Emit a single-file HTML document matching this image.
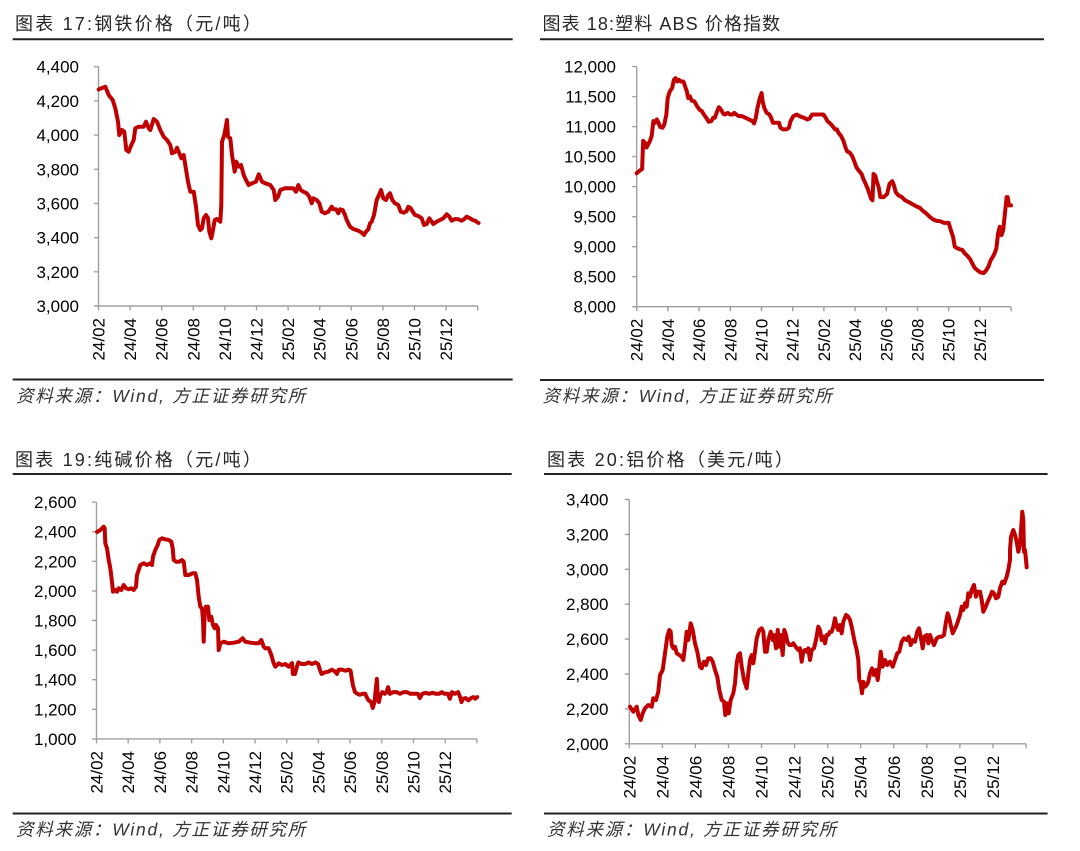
<!DOCTYPE html>
<html><head><meta charset="utf-8"><style>
html,body{margin:0;padding:0;background:#fff;}
svg{display:block;}
.t{font-family:"Liberation Sans","Noto Sans CJK SC",sans-serif;font-size:18px;letter-spacing:2.2px;fill:#262626;}
.t2{font-family:"Liberation Sans","Noto Sans CJK SC",sans-serif;font-size:18px;letter-spacing:1.1px;fill:#262626;}
.s{font-family:"Liberation Sans","Noto Sans CJK SC",sans-serif;font-size:17.5px;letter-spacing:1.75px;font-style:italic;fill:#333;}
.yl{font-family:"Liberation Sans",sans-serif;font-size:17px;fill:#000;text-anchor:end;}
.xl{font-family:"Liberation Sans",sans-serif;font-size:17px;fill:#000;text-anchor:end;}
.ax{stroke:#a0a0a0;stroke-width:1.4;fill:none;}
.ln{stroke:#222;stroke-width:2;}
.d{fill:none;stroke:#C00000;stroke-width:4;stroke-linejoin:round;stroke-linecap:round;}
</style></head><body>
<svg width="1080" height="851" viewBox="0 0 1080 851" xmlns="http://www.w3.org/2000/svg">
<rect width="1080" height="851" fill="#fff"/>

<!-- ============ CHART 1 ============ -->
<text class="t" x="15" y="30">图表 17:钢铁价格（元/吨）</text>
<line class="ln" x1="12.7" y1="39.3" x2="512.7" y2="39.3"/>
<line class="ln" x1="12.7" y1="379.5" x2="512.7" y2="379.5"/>
<text class="s" x="16" y="402">资料来源：Wind, 方正证券研究所</text>
<g class="ax">
<path d="M98.5 66.7V306H477.7"/>
<path d="M94 66.7H98.5M94 100.9H98.5M94 135.1H98.5M94 169.3H98.5M94 203.5H98.5M94 237.7H98.5M94 271.8H98.5M94 306H98.5"/>
<path d="M98.5 306v4.5M130.1 306v4.5M161.7 306v4.5M193.3 306v4.5M224.9 306v4.5M256.5 306v4.5M288.1 306v4.5M319.7 306v4.5M351.3 306v4.5M382.9 306v4.5M414.5 306v4.5M446.1 306v4.5M477.7 306v4.5"/>
</g>
<g class="yl">
<text x="79" y="66.7" dy="0.35em">4,400</text>
<text x="79" y="100.9" dy="0.35em">4,200</text>
<text x="79" y="135.1" dy="0.35em">4,000</text>
<text x="79" y="169.3" dy="0.35em">3,800</text>
<text x="79" y="203.5" dy="0.35em">3,600</text>
<text x="79" y="237.7" dy="0.35em">3,400</text>
<text x="79" y="271.8" dy="0.35em">3,200</text>
<text x="79" y="306" dy="0.35em">3,000</text>
</g>
<g class="xl">
<text transform="translate(98.5,318) rotate(-90)" dy="0.35em">24/02</text>
<text transform="translate(130.1,318) rotate(-90)" dy="0.35em">24/04</text>
<text transform="translate(161.7,318) rotate(-90)" dy="0.35em">24/06</text>
<text transform="translate(193.3,318) rotate(-90)" dy="0.35em">24/08</text>
<text transform="translate(224.9,318) rotate(-90)" dy="0.35em">24/10</text>
<text transform="translate(256.5,318) rotate(-90)" dy="0.35em">24/12</text>
<text transform="translate(288.1,318) rotate(-90)" dy="0.35em">25/02</text>
<text transform="translate(319.7,318) rotate(-90)" dy="0.35em">25/04</text>
<text transform="translate(351.3,318) rotate(-90)" dy="0.35em">25/06</text>
<text transform="translate(382.9,318) rotate(-90)" dy="0.35em">25/08</text>
<text transform="translate(414.5,318) rotate(-90)" dy="0.35em">25/10</text>
<text transform="translate(446.1,318) rotate(-90)" dy="0.35em">25/12</text>
</g>
<polyline class="d" points="98.7,89.5 99.3,89 105.3,86.7 108.7,95 112.7,100 115.3,108.3 118,121.7 119.3,135 122,130 124.3,131.7 126.3,150 128.7,151.7 131.3,145 133.7,140 135.3,128.3 138.7,126.7 143.7,126.7 146,121.7 148.7,128.3 150.3,130 153.7,119 157,121.7 160.3,130 163.7,136.7 167,140 170.3,145 172,153.3 175.3,151.7 177,147.7 179.3,153.3 181.3,158.3 183.7,155 185.3,165 188,181.7 190.3,191.7 193.7,191.7 196,206.7 198,225 200.3,230 202,228.3 203.7,218.3 206,215 208,218.3 209.3,231.7 211.3,238.3 212.7,231.7 214.7,220 217,219 220.3,221.7 221.3,205 222,141.7 224.3,135 227,120 228,136.7 230.3,138.3 232,155 234.7,171.7 236.3,161.7 238.7,166.7 241,165 243.7,175 246,180 248.7,185 252,183.3 256,181.7 258.7,174.3 262,181.7 265.3,183.3 270.3,185 273.7,190 275.3,200 278,196.7 280.3,190 285,188.3 293.3,188.3 296,191.7 298.3,185 300.7,190 303.3,191.7 306.7,193.3 309.3,196.7 311.7,203.3 313.3,198.3 316.7,200 319.3,203.3 321.7,211.7 325,213.3 328.3,211.7 331.7,206.7 333.3,209.3 336,209.3 338.3,213.3 340,209.3 342.7,210 345,215 346.7,220 350,226.7 353.3,229 358.3,230.7 361.7,232.7 364,235 366,231.7 368.3,229.3 370,223.3 371.7,221.7 374,215 376.7,200 379,195 381,190 383.3,198.3 386,200 388.3,195 390,193.3 392.3,200 395,203.3 398.3,205 400.7,211.7 404,212.7 406.7,211 408.3,206.7 410.7,208.3 412.7,211.7 415,215 418.3,216 421.7,218.3 424,225 426.7,224 429.3,218.3 431.7,221.7 433.3,224 436.7,221.7 440,220 443.3,218.3 446.7,214.3 449.3,216.7 451.7,220.7 455,219 458.3,219.3 461.7,220.7 464,219.3 466.7,216.7 470,218.3 472.7,220 475,220.7 478.5,223"/>

<!-- ============ CHART 2 ============ -->
<text class="t2" x="542.5" y="30">图表 18:塑料 ABS 价格指数</text>
<line class="ln" x1="540" y1="39.3" x2="1044" y2="39.3"/>
<line class="ln" x1="540" y1="380" x2="1044" y2="380"/>
<text class="s" x="542.5" y="402">资料来源：Wind, 方正证券研究所</text>
<g class="ax">
<path d="M636.7 66.6V306.7H1011.1"/>
<path d="M632.2 66.6H636.7M632.2 96.6H636.7M632.2 126.6H636.7M632.2 156.6H636.7M632.2 186.6H636.7M632.2 216.7H636.7M632.2 246.7H636.7M632.2 276.7H636.7M632.2 306.7H636.7"/>
<path d="M636.7 306.7v4.5M667.9 306.7v4.5M699.1 306.7v4.5M730.3 306.7v4.5M761.5 306.7v4.5M792.7 306.7v4.5M823.9 306.7v4.5M855.1 306.7v4.5M886.3 306.7v4.5M917.5 306.7v4.5M948.7 306.7v4.5M979.9 306.7v4.5M1011.1 306.7v4.5"/>
</g>
<g class="yl">
<text x="616" y="66.6" dy="0.35em">12,000</text>
<text x="616" y="96.6" dy="0.35em">11,500</text>
<text x="616" y="126.6" dy="0.35em">11,000</text>
<text x="616" y="156.6" dy="0.35em">10,500</text>
<text x="616" y="186.6" dy="0.35em">10,000</text>
<text x="616" y="216.7" dy="0.35em">9,500</text>
<text x="616" y="246.7" dy="0.35em">9,000</text>
<text x="616" y="276.7" dy="0.35em">8,500</text>
<text x="616" y="306.7" dy="0.35em">8,000</text>
</g>
<g class="xl">
<text transform="translate(636.7,318.7) rotate(-90)" dy="0.35em">24/02</text>
<text transform="translate(667.9,318.7) rotate(-90)" dy="0.35em">24/04</text>
<text transform="translate(699.1,318.7) rotate(-90)" dy="0.35em">24/06</text>
<text transform="translate(730.3,318.7) rotate(-90)" dy="0.35em">24/08</text>
<text transform="translate(761.5,318.7) rotate(-90)" dy="0.35em">24/10</text>
<text transform="translate(792.7,318.7) rotate(-90)" dy="0.35em">24/12</text>
<text transform="translate(823.9,318.7) rotate(-90)" dy="0.35em">25/02</text>
<text transform="translate(855.1,318.7) rotate(-90)" dy="0.35em">25/04</text>
<text transform="translate(886.3,318.7) rotate(-90)" dy="0.35em">25/06</text>
<text transform="translate(917.5,318.7) rotate(-90)" dy="0.35em">25/08</text>
<text transform="translate(948.7,318.7) rotate(-90)" dy="0.35em">25/10</text>
<text transform="translate(979.9,318.7) rotate(-90)" dy="0.35em">25/12</text>
</g>
<g transform="translate(540.75,2.2) scale(0.3413,0.3303)">
<polyline class="d" vector-effect="non-scaling-stroke" points="281,518 290,510 297,505 300,420 305,425 310,440 315,430 320,420 325,405 330,360 335,365 340,355 345,365 350,378 357,380 362,370 368,340 372,290 378,270 385,260 390,235 395,230 400,240 405,235 410,240 418,240 423,255 428,270 432,290 437,285 442,298 450,300 458,315 465,325 472,330 478,340 485,350 492,362 500,360 505,350 510,350 517,330 522,318 528,325 535,338 540,340 548,335 555,340 562,340 567,335 573,340 580,345 590,345 600,350 610,355 620,360 625,367 630,350 635,320 642,290 647,275 650,300 655,320 662,335 670,340 675,350 680,365 690,365 698,365 702,380 710,385 720,385 727,380 732,360 740,345 750,340 758,345 765,348 772,350 780,355 788,352 795,340 802,340 810,340 820,340 828,340 835,350 840,360 848,367 855,375 862,385 868,385 872,395 880,405 887,420 893,440 898,452 905,455 912,465 918,480 925,500 932,510 940,520 945,535 952,550 958,565 963,580 968,595 972,600 975,520 980,525 985,545 990,560 995,590 1005,590 1015,580 1022,550 1030,542 1035,555 1040,575 1048,585 1058,590 1068,600 1078,605 1090,612 1100,618 1110,622 1120,632 1130,640 1140,650 1150,658 1160,662 1170,663 1182,668 1195,668 1200,685 1208,710 1213,740 1220,745 1228,748 1235,750 1242,760 1250,768 1258,778 1265,792 1272,805 1280,812 1288,818 1298,820 1305,812 1312,800 1318,782 1325,770 1330,760 1335,745 1340,700 1345,680 1350,705 1355,690 1360,640 1365,590 1368,590 1372,615 1378,615"/>
</g>

<!-- ============ CHART 3 ============ -->
<text class="t" x="15" y="466">图表 19:纯碱价格（元/吨）</text>
<line class="ln" x1="12.7" y1="474" x2="511.7" y2="474"/>
<line class="ln" x1="12.7" y1="813.5" x2="511.7" y2="813.5"/>
<text class="s" x="16" y="835.5">资料来源：Wind, 方正证券研究所</text>
<g class="ax">
<path d="M96.5 502.1V738.9H476.9"/>
<path d="M92 502.1H96.5M92 531.7H96.5M92 561.3H96.5M92 590.9H96.5M92 620.5H96.5M92 650.1H96.5M92 679.7H96.5M92 709.3H96.5M92 738.9H96.5"/>
<path d="M96.5 738.9v4.5M128.2 738.9v4.5M159.9 738.9v4.5M191.6 738.9v4.5M223.3 738.9v4.5M255 738.9v4.5M286.7 738.9v4.5M318.4 738.9v4.5M350.1 738.9v4.5M381.8 738.9v4.5M413.5 738.9v4.5M445.2 738.9v4.5M476.9 738.9v4.5"/>
</g>
<g class="yl">
<text x="76.5" y="502.1" dy="0.35em">2,600</text>
<text x="76.5" y="531.7" dy="0.35em">2,400</text>
<text x="76.5" y="561.3" dy="0.35em">2,200</text>
<text x="76.5" y="590.9" dy="0.35em">2,000</text>
<text x="76.5" y="620.5" dy="0.35em">1,800</text>
<text x="76.5" y="650.1" dy="0.35em">1,600</text>
<text x="76.5" y="679.7" dy="0.35em">1,400</text>
<text x="76.5" y="709.3" dy="0.35em">1,200</text>
<text x="76.5" y="738.9" dy="0.35em">1,000</text>
</g>
<g class="xl">
<text transform="translate(96.5,751) rotate(-90)" dy="0.35em">24/02</text>
<text transform="translate(128.2,751) rotate(-90)" dy="0.35em">24/04</text>
<text transform="translate(159.9,751) rotate(-90)" dy="0.35em">24/06</text>
<text transform="translate(191.6,751) rotate(-90)" dy="0.35em">24/08</text>
<text transform="translate(223.3,751) rotate(-90)" dy="0.35em">24/10</text>
<text transform="translate(255,751) rotate(-90)" dy="0.35em">24/12</text>
<text transform="translate(286.7,751) rotate(-90)" dy="0.35em">25/02</text>
<text transform="translate(318.4,751) rotate(-90)" dy="0.35em">25/04</text>
<text transform="translate(350.1,751) rotate(-90)" dy="0.35em">25/06</text>
<text transform="translate(381.8,751) rotate(-90)" dy="0.35em">25/08</text>
<text transform="translate(413.5,751) rotate(-90)" dy="0.35em">25/10</text>
<text transform="translate(445.2,751) rotate(-90)" dy="0.35em">25/12</text>
</g>
<polyline class="d" points="97,532 100.3,530 103.7,526.7 104.7,528.3 105.3,543.3 107,548.3 108.7,560 110.3,568.3 112,581.7 113,591.7 115.3,590 117,591.7 118.7,588.3 121.3,590 123.7,585 126,588.3 128.7,589.3 131.3,588.3 133.7,590 136,586.7 137,575 138.7,570 140.3,565 143.7,563.3 147,565 150.3,563.3 152,565 153,556.7 155.3,550 157.7,545 159.3,540 162,538.3 165.3,539.3 168.7,540 171.3,541.7 172.7,548.3 173.7,560 176,561.7 179.3,561.7 182,560 183.7,561.7 185.3,575 188.7,575 192.7,573.3 195.3,573.3 197,580 198.7,596.7 200.3,606.7 202,608.3 203,620 203.7,641.7 204.7,613.3 206,606.7 207,610 208,606.7 209.3,620 211.3,616.7 213,625 214.7,628.3 216,625 218,628.3 218.7,650 220.3,643.3 223.7,641.7 228.7,643.3 233.7,642.7 238.7,641.7 242.7,638.3 245.3,641.7 250.3,642.7 255.3,643.3 258.7,643.3 261.3,640 263.7,646.7 265.3,648.3 268.7,648.3 271.3,655 273.7,663.3 275.3,666.7 278.7,663.3 282,665 285.3,664 288.7,666.7 292,663.3"/>
<g transform="translate(0.75,431.2) scale(0.3413,0.3303)">
<polyline class="d" vector-effect="non-scaling-stroke" points="853.4,702.7 856,735 862,735 868,712 872,700 882,705 892,705 902,700 912,705 922,700 930,705 935,722 940,735 950,730 960,728 970,722 980,728 985,735 990,722 1000,722 1010,725 1020,722 1025,725 1028,745 1032,770 1038,790 1045,795 1052,798 1060,795 1068,795 1072,805 1078,815 1085,820 1090,838 1095,820 1098,790 1102,750 1105,810 1108,820 1112,800 1118,790 1125,795 1130,790 1135,775 1140,795 1150,790 1160,790 1170,795 1180,790 1190,790 1200,795 1210,795 1222,795 1228,808 1235,795 1245,792 1255,795 1265,792 1275,795 1285,795 1292,790 1300,795 1310,795 1316,810 1322,790 1330,795 1340,790 1346,805 1350,820 1355,810 1362,808 1370,815 1378,808 1385,805 1390,810 1396,805"/>
</g>

<!-- ============ CHART 4 ============ -->
<text class="t" x="547" y="466">图表 20:铝价格（美元/吨）</text>
<line class="ln" x1="544" y1="474" x2="1047.6" y2="474"/>
<line class="ln" x1="544" y1="813.5" x2="1047.6" y2="813.5"/>
<text class="s" x="547" y="835.5">资料来源：Wind, 方正证券研究所</text>
<g class="ax">
<path d="M629.3 499.5V743.8H1026.1"/>
<path d="M624.8 499.5H629.3M624.8 534.4H629.3M624.8 569.3H629.3M624.8 604.2H629.3M624.8 639.1H629.3M624.8 674H629.3M624.8 708.9H629.3M624.8 743.8H629.3"/>
<path d="M629.3 743.8v4.5M662.4 743.8v4.5M695.4 743.8v4.5M728.5 743.8v4.5M761.5 743.8v4.5M794.6 743.8v4.5M827.7 743.8v4.5M860.7 743.8v4.5M893.8 743.8v4.5M926.8 743.8v4.5M959.9 743.8v4.5M993 743.8v4.5M1026.1 743.8v4.5"/>
</g>
<g class="yl">
<text x="608.5" y="499.5" dy="0.35em">3,400</text>
<text x="608.5" y="534.4" dy="0.35em">3,200</text>
<text x="608.5" y="569.3" dy="0.35em">3,000</text>
<text x="608.5" y="604.2" dy="0.35em">2,800</text>
<text x="608.5" y="639.1" dy="0.35em">2,600</text>
<text x="608.5" y="674" dy="0.35em">2,400</text>
<text x="608.5" y="708.9" dy="0.35em">2,200</text>
<text x="608.5" y="743.8" dy="0.35em">2,000</text>
</g>
<g class="xl">
<text transform="translate(629.3,755.8) rotate(-90)" dy="0.35em">24/02</text>
<text transform="translate(662.4,755.8) rotate(-90)" dy="0.35em">24/04</text>
<text transform="translate(695.4,755.8) rotate(-90)" dy="0.35em">24/06</text>
<text transform="translate(728.5,755.8) rotate(-90)" dy="0.35em">24/08</text>
<text transform="translate(761.5,755.8) rotate(-90)" dy="0.35em">24/10</text>
<text transform="translate(794.6,755.8) rotate(-90)" dy="0.35em">24/12</text>
<text transform="translate(827.7,755.8) rotate(-90)" dy="0.35em">25/02</text>
<text transform="translate(860.7,755.8) rotate(-90)" dy="0.35em">25/04</text>
<text transform="translate(893.8,755.8) rotate(-90)" dy="0.35em">25/06</text>
<text transform="translate(926.8,755.8) rotate(-90)" dy="0.35em">25/08</text>
<text transform="translate(959.9,755.8) rotate(-90)" dy="0.35em">25/10</text>
<text transform="translate(993,755.8) rotate(-90)" dy="0.35em">25/12</text>
</g>
<polyline class="d" points="630,706.7 633.3,711.7 636.7,706.7 638.3,715 640.7,720 642.7,713.3 645,708.3 648.3,705 651.7,706.7 653.3,698.3 656,700 658.3,691.7 660,675 662.7,670 665,653.3 667.3,636.7 669.3,630 670.7,631.7 671.7,645 673.3,648.3 675,646.7 676.7,653.3 679.3,655 681.7,656.7 683.3,660 685,646.7 686.7,631.7 688.3,640 690.7,623.3 692.7,630 695,643.3 697.3,651.7 700,666.7 701.7,668.3 704,661.7 706,665 708.3,658.3 710.7,658.3 712.7,661.7 715,670 717.3,676.7 719.3,690 721.7,700 724,701.7 725.3,715 727.3,703.3 728.7,713.3 730.7,700 733.3,693.3 735,683.3 736.7,663.3 738.3,655 740,653.3 741.7,666.7 744,680 746.7,688.3 748.3,673.3 750,660 751.7,655 753.3,663.3 755,651.7 756.7,638.3 759.3,630 761.7,628.3 763.3,631.7 765,651.7 766.7,651.7 768.3,640 770.7,631.7 772.7,640 774,635 776,648.3 777.7,630 779.3,646.7 780.7,635 782.7,655 784.3,630 786,635 787.3,641.7 789.3,645 791.7,645 793.3,643.3 796,647.3 798.3,650 800,648.3 801.7,661.7 803.3,651.7 805,650 806.7,651.7 808.3,648.3 810,660 811.7,650 814,648.3 816,640 818.3,626.7 820,630 821.7,640 823.3,636.7 825,643.3 826.7,635 828.3,635 830,631.7 831.7,631.7 833.3,626.7 835,618.3 836.7,626.7 838.3,630 840,625 841.7,633.3 843.3,621.7 846,615 848.3,616.7 850,620 851.7,626.7 853.3,635 855,643.3 856.7,650 858.3,660 859.3,680 860.7,683.3 862,693.3 863.3,681.7 865,686.7 866.7,685 868.3,681.7 870,673.3 872,668.3 874,675 876,670 877.7,680 879.3,666.7 880.7,651.7 882.7,666.7 885,660 887.3,665 890,661.7 892.7,666.7 895,660 897.3,653.3 899.3,651.7 901.7,641.7 904,638.3 906.7,640 908.7,636.7 910.7,645 912.7,640 915,641.7 917.3,631.7 919,628.3 920.7,636.7 922.7,648.3 924.3,636.7 926.7,635 928.3,643.3 930,635 931.7,640 934,645 936.7,638.3 939.3,636.7 941.7,636.7 944,635 946,621.7 947.7,613.3 949.3,618.3 950.7,625 952.7,633.3 954.3,630 956.7,625 958.3,620 960,615 961.7,606.7 963.3,610 965,603.3 966.7,606.7 968.3,593.3 970,596.7 971.7,590 974,585 976,596.7 977.7,591.7 980,591.7 981.7,600 983.3,611.7 985.7,606.7 987.7,601.7 990,596.7 992,591.7 994,593.3 996,598.3 998.3,596.7 1000,588.3 1002.3,581.7 1004.3,583.3 1006.7,576.7 1008.3,570 1010,560 1010,550 1011,536.7 1013.3,530 1015,535 1016.7,541.7 1018.3,551.7 1020,545 1021.7,520 1022.3,511.7 1023.3,520 1024,551.7 1025,550 1026,560 1026.7,567.3"/>
</svg>
</body></html>
